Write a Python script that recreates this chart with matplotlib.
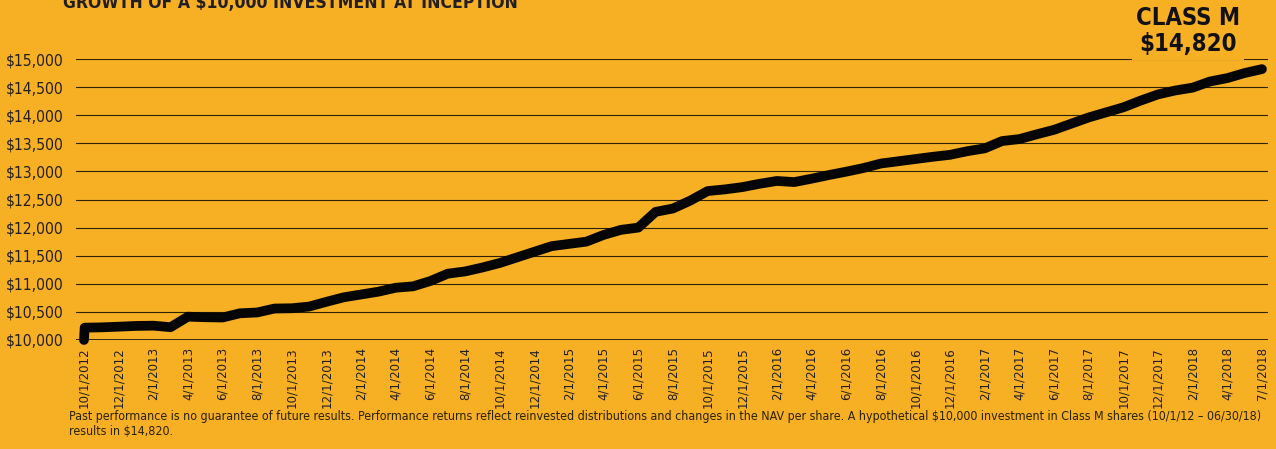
import matplotlib
matplotlib.use("Agg")
import matplotlib.pyplot as plt
from matplotlib import font_manager as fm
from matplotlib.ticker import FuncFormatter

# month offsets from 10/1/2012 (first two points are the start value and the first NAV)
months = [0, 0.04] + list(range(1, 69))
values = [10000, 10220, 10225, 10237, 10250, 10255, 10228, 10415, 10405, 10400,
          10475, 10490, 10560, 10565, 10595, 10680, 10760, 10810, 10860, 10930,
          10955, 11050, 11180, 11220, 11290, 11370, 11470, 11570, 11670, 11710,
          11750, 11870, 11960, 12000, 12280, 12340, 12480, 12650, 12680, 12720,
          12780, 12830, 12810, 12870, 12935, 12995, 13060, 13140, 13180, 13220,
          13260, 13295, 13360, 13410, 13540, 13575, 13660, 13740, 13850, 13960,
          14050, 14140, 14260, 14370, 14440, 14490, 14600, 14660, 14750, 14820]

tick_months = list(range(0, 69, 2))
tick_labels = ['10/1/2012', '12/1/2012', '2/1/2013', '4/1/2013', '6/1/2013', '8/1/2013',
               '10/1/2013', '12/1/2013', '2/1/2014', '4/1/2014', '6/1/2014', '8/1/2014',
               '10/1/2014', '12/1/2014', '2/1/2015', '4/1/2015', '6/1/2015', '8/1/2015',
               '10/1/2015', '12/1/2015', '2/1/2016', '4/1/2016', '6/1/2016', '8/1/2016',
               '10/1/2016', '12/1/2016', '2/1/2017', '4/1/2017', '6/1/2017', '8/1/2017',
               '10/1/2017', '12/1/2017', '2/1/2018', '4/1/2018', '7/1/2018']
y_ticks = [10000, 10500, 11000, 11500, 12000, 12500, 13000, 13500, 14000, 14500, 15000]

title = 'GROWTH OF A $10,000 INVESTMENT AT INCEPTION'
end_label = 'CLASS M\n$14,820'
footnote = ('Past performance is no guarantee of future results. Performance returns reflect '
            'reinvested distributions and changes in the NAV per share. A hypothetical $10,000 '
            'investment in Class M shares (10/1/12 \u2013 06/30/18)\nresults in $14,820.')

bg = '#F7B024'
ink = '#231f20'

# pick a narrow font if one is installed
names = {f.name for f in fm.fontManager.ttflist}
dv_cond = any(f.name == 'DejaVu Sans' and 'condensed' in str(f.stretch) for f in fm.fontManager.ttflist)
if 'Liberation Sans Narrow' in names:
    fam, stretch, scale = 'Liberation Sans Narrow', 'normal', 1.0
elif dv_cond:
    fam, stretch, scale = 'DejaVu Sans', 'condensed', 0.9
else:
    fam, stretch, scale = 'DejaVu Sans', 'normal', 0.8
font = dict(family=fam, stretch=stretch)

fig = plt.figure(figsize=(12.76, 4.49), dpi=100, facecolor=bg)
ax = fig.add_axes([76 / 1276, 109 / 449, 1192 / 1276, 281 / 449])
ax.set_facecolor(bg)

ax.plot(months, values, color='#050505', lw=7, solid_capstyle='round',
        solid_joinstyle='round', clip_on=False, zorder=5)

ax.set_xlim(-0.46, 68.35)
ax.set_ylim(10000, 15000)
ax.set_yticks(y_ticks)
ax.yaxis.set_major_formatter(FuncFormatter(lambda v, p: '${:,.0f}'.format(v)))
ax.set_xticks(tick_months)
ax.set_xticklabels(tick_labels, rotation=90, va='top', ha='center')

for v in y_ticks[1:]:
    ax.axhline(v, color='#2e2205', lw=0.8, zorder=1)
ax.axhline(10000, color='#111111', lw=1.2, zorder=2)

for s in ax.spines.values():
    s.set_visible(False)
ax.tick_params(length=0)
ax.tick_params(axis='y', pad=9)
ax.tick_params(axis='x', pad=5)
for t in ax.get_yticklabels():
    t.set_color(ink)
    t.set_fontproperties(fm.FontProperties(size=12.5 * scale, **font))
for t in ax.get_xticklabels():
    t.set_fontproperties(fm.FontProperties(size=10.5 * scale, **font))
    t.set_color(ink)

fig.text(63 / 1276, 1 - 8 / 449, title, ha='left', va='baseline', color=ink,
         fontsize=14 * scale, fontweight='bold', parse_math=False, **font)

fig.text(1188 / 1276, 1 - 6 / 449, end_label, ha='center', va='top', color='#111111',
         fontsize=19 * scale, fontweight='bold', linespacing=1.1, parse_math=False,
         bbox=dict(facecolor=bg, edgecolor='none', pad=3), zorder=10, **font)

fig.text(69 / 1276, 1 - 410 / 449, footnote, ha='left', va='top', color='#2a2205',
         fontsize=9.9 * scale, linespacing=1.2, parse_math=False, **font)

fig.savefig('out.png', dpi=100, facecolor=bg)
